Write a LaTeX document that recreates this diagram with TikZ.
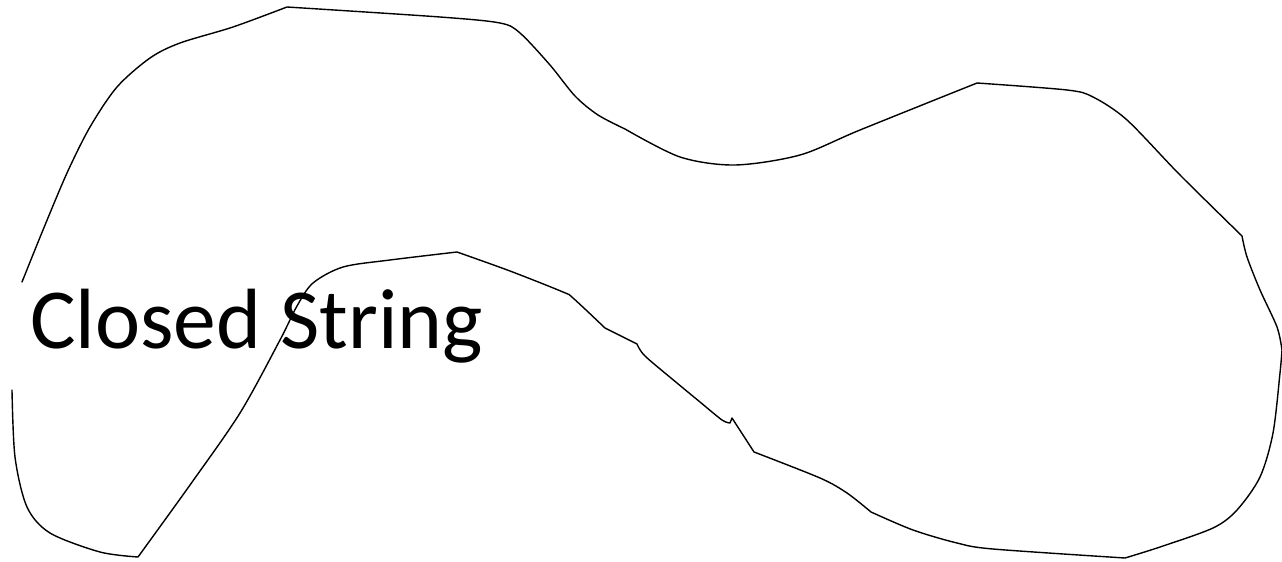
\documentclass[tikz,border=0pt]{standalone}
\usepackage{fontspec}
\setmainfont{Carlito}
\tikzset{stringline/.style={draw=black,line width=1.4pt,line join=round,line cap=round},
  lbl/.style={inner sep=0pt,anchor=base west,font=\fontsize{85.5}{95}\selectfont}}
\begin{document}
\begin{tikzpicture}[x=1pt,y=-1pt]
\useasboundingbox (0,0) rectangle (1282,562);
\draw[stringline] plot[smooth,tension=0.5] coordinates {(22,282) (43,230) (67,173) (90,127) (117,87) (150,58) (180,43) (233,27) (287,7)}
  plot[smooth,tension=0.5] coordinates {(287,7) (440,17) (500,23) (520,33) (550,65) (575,96) (598,115) (625,129)}
  plot[smooth,tension=0.5] coordinates {(625,129) (680,157) (735,165) (800,155) (860,130) (977,83)}
  plot[smooth,tension=0.5] coordinates {(977,83) (1067,90) (1093,97) (1127,120) (1180,175) (1242,236)}
  plot[smooth,tension=0.5] coordinates {(1242,236) (1247,257) (1260,290) (1277,327) (1282,350)}
  plot[smooth,tension=0.5] coordinates {(1282,350) (1280,373) (1273,433) (1260,477) (1237,510) (1213,528) (1160,547) (1125,558)}
  plot[smooth,tension=0.5] coordinates {(1125,558) (993,549) (957,543) (913,530) (871,512)}
  plot[smooth,tension=0.5] coordinates {(871,512) (847,493) (820,478) (754,452)}
  -- (732,418) -- (730,423)
  plot[smooth,tension=0.5] coordinates {(730,423) (722,420) (700,402) (677,383) (645,356) (637,344)}
  -- (605,328)
  plot[smooth,tension=0.5] coordinates {(605,328) (573,298) (563,292) (510,271) (457,252)}
  plot[smooth,tension=0.5] coordinates {(457,252) (390,260) (343,267) (313,283) (297,306) (280,340) (240,413) (190,485) (138,557)}
  plot[smooth,tension=0.5] coordinates {(138,557) (100,552) (50,533) (27,507) (15,457) (12,390)};
\node[lbl] (title) at (30,348) {Closed String};
\end{tikzpicture}
\end{document}
